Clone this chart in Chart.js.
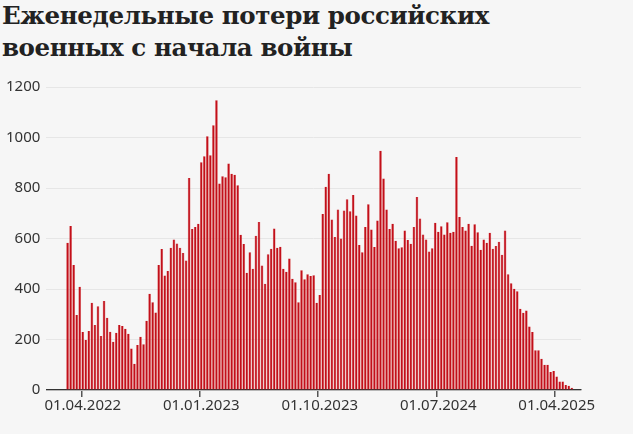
<!DOCTYPE html>
<html><head><meta charset="utf-8">
<script src="https://cdn.jsdelivr.net/npm/chart.js@4"></script>
<style>
body{margin:0;background:#f6f6f6;width:633px;height:434px;overflow:hidden;font-family:"DejaVu Serif",serif}
h1{margin:0;position:absolute;left:2px;top:0px;font-family:"DejaVu Serif",serif;font-weight:bold;font-size:24.5px;line-height:32px;color:#222;letter-spacing:-0.4px}
#wrap{position:absolute;left:0;top:72px;width:633px;height:343px}
</style></head><body>
<h1>Еженедельные потери российских<br>военных с начала войны</h1>
<div id="wrap"><canvas id="c"></canvas></div>
<script>
const values=[583,650,495,297,409,230,198,234,346,257,332,214,352,286,231,191,227,257,253,243,223,164,104,178,211,181,274,381,348,307,495,558,453,471,563,596,580,563,543,513,840,638,646,658,902,926,1005,930,1049,1148,818,847,843,897,856,852,811,615,578,464,546,480,611,665,493,421,538,559,640,563,567,480,468,521,441,427,348,474,439,458,451,454,346,376,697,805,856,675,606,715,600,711,755,708,772,691,574,546,646,736,636,566,671,948,838,715,638,658,591,561,565,632,594,579,646,764,679,616,596,549,561,662,627,649,616,664,623,627,923,685,646,632,658,571,656,625,555,596,583,623,559,570,587,536,632,458,423,401,391,322,306,315,251,230,157,157,124,100,100,71,75,53,34,34,20,17,9];
const padBefore=7, padAfter=3;
const tickLabelsRaw={5:"01.04.2022",44:"01.01.2023",83:"01.10.2023",122:"01.07.2024",161:"01.04.2025"};
const yTicks=[0,200,400,600,800,1000,1200];
const data=[...Array(padBefore).fill(null),...values,...Array(padAfter).fill(null)];
const tickLabels={};Object.keys(tickLabelsRaw).forEach(k=>tickLabels[+k+padBefore]=tickLabelsRaw[k]);
const labels=data.map((v,i)=>tickLabels[i]||"");
new Chart(document.getElementById('c'),{type:'bar',
data:{labels,datasets:[{data,backgroundColor:'#c20f1a',borderColor:'#d63c3c',borderWidth:{left:0.5,right:0.5,top:0,bottom:0},categoryPercentage:1,barPercentage:0.88}]},
options:{responsive:true,maintainAspectRatio:false,animation:false,
layout:{padding:{top:6,right:52,left:0,bottom:0}},
plugins:{legend:{display:false},tooltip:{enabled:false}},
scales:{
x:{offset:false,border:{color:'#333',width:1.2},
grid:{drawOnChartArea:false,tickLength:7,color:c=>tickLabels[c.index]?'#555':'rgba(0,0,0,0)',lineWidth:1.5},
ticks:{autoSkip:false,maxRotation:0,color:'#333',font:{family:'Noto Sans',size:15},padding:0,callback:(v,i)=>tickLabels[i]||''}},
y:{min:0,max:1200,border:{display:false},afterBuildTicks:a=>{a.ticks=yTicks.map(v=>({value:v}))},
grid:{color:'#e6e6e6',drawTicks:false},
ticks:{color:'#333',font:{family:'Noto Sans',size:15},padding:6,callback:v=>String(v)}}}}});
</script></body></html>
